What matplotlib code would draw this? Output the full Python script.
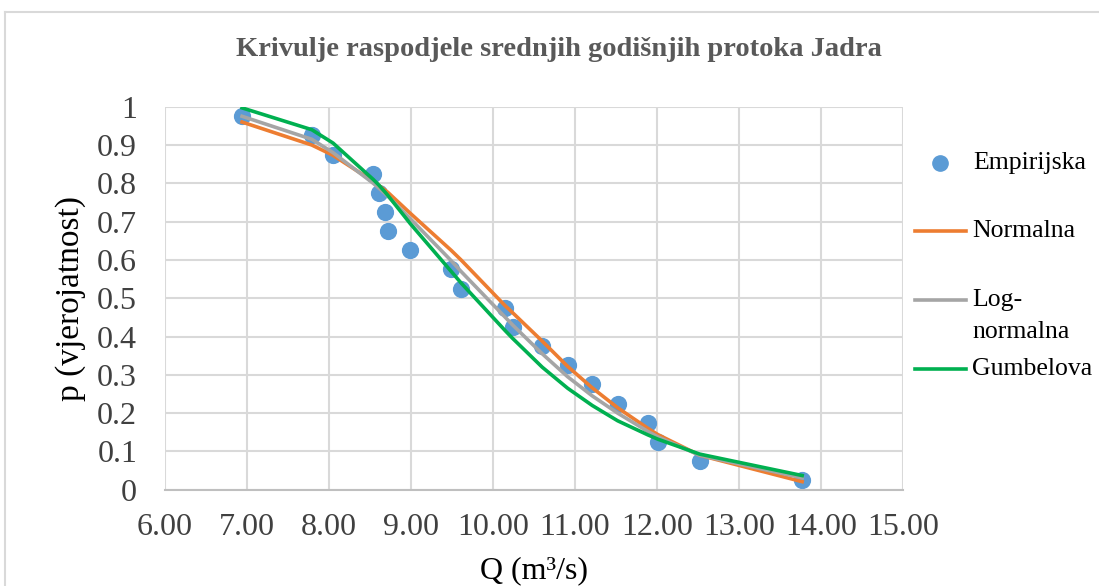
import matplotlib.pyplot as plt
from matplotlib.lines import Line2D

# empirical flows (m3/s) and their exceedance probabilities
q = [6.94, 7.79, 8.05, 8.54, 8.61, 8.68, 8.72, 8.99, 9.49, 9.61,
     10.15, 10.24, 10.60, 10.91, 11.21, 11.52, 11.89, 12.01, 12.52, 13.77]
p_emp = [0.975, 0.925, 0.875, 0.825, 0.775, 0.725, 0.675, 0.625, 0.575, 0.525,
         0.475, 0.425, 0.375, 0.325, 0.275, 0.225, 0.175, 0.125, 0.075, 0.025]
p_normal = [0.960, 0.900, 0.873, 0.805, 0.794, 0.783, 0.776, 0.722, 0.625, 0.600,
            0.480, 0.462, 0.388, 0.322, 0.266, 0.214, 0.160, 0.144, 0.090, 0.021]
p_lognormal = [0.975, 0.915, 0.880, 0.800, 0.787, 0.774, 0.766, 0.708, 0.598, 0.570,
               0.450, 0.430, 0.355, 0.295, 0.245, 0.200, 0.152, 0.138, 0.090, 0.031]
p_gumbel = [0.997, 0.940, 0.905, 0.810, 0.795, 0.778, 0.768, 0.695, 0.570, 0.540,
            0.415, 0.395, 0.320, 0.265, 0.220, 0.180, 0.143, 0.132, 0.093, 0.037]

xticks = [6, 7, 8, 9, 10, 11, 12, 13, 14, 15]
yticks = [0, 0.1, 0.2, 0.3, 0.4, 0.5, 0.6, 0.7, 0.8, 0.9, 1]
ytick_labels = ["0", "0.1", "0.2", "0.3", "0.4", "0.5", "0.6", "0.7", "0.8", "0.9", "1"]

plt.rcParams["font.family"] = ["Liberation Serif", "DejaVu Serif"]

fig = plt.figure(figsize=(10.99, 5.86), dpi=100)
ax = fig.add_axes([0.1501, 0.1643, 0.6716, 0.6536])

ax.scatter(q, p_emp, s=130, color="#5b9bd5", zorder=2)
ax.plot(q, p_normal, color="#ed7d31", lw=2.6, zorder=3)
ax.plot(q, p_lognormal, color="#a5a5a5", lw=2.6, zorder=3)
ax.plot(q, p_gumbel, color="#00b050", lw=2.6, zorder=3)

ax.set_xlim(6, 15)
ax.set_ylim(0, 1)
ax.set_xticks(xticks)
ax.set_xticklabels([f"{v:.2f}" for v in xticks])
ax.set_yticks(yticks)
ax.set_yticklabels(ytick_labels)
ax.grid(color="#d9d9d9", lw=1.5, zorder=0)
ax.set_axisbelow(True)
for side in ["top", "right", "left"]:
    ax.spines[side].set_visible(False)
ax.spines["bottom"].set_color("#bfbfbf")
ax.spines["bottom"].set_linewidth(1.5)
ax.tick_params(length=0, labelsize=23, labelcolor="#404040")
ax.tick_params(axis="x", pad=17)
ax.tick_params(axis="y", pad=20)

ax.set_xlabel("Q (m³/s)", fontsize=23, labelpad=10)
ax.set_ylabel("p (vjerojatnost)", fontsize=24, labelpad=8)
fig.text(0.5087, 0.916, "Krivulje raspodjele srednjih godišnjih protoka Jadra",
         ha="center", va="center", fontsize=20.5, fontweight="bold", color="#595959")

# legend drawn by hand so the multiline entry keeps its line on the first row
W, H = 1099, 586
fig.add_artist(Line2D([940 / W], [1 - 163 / H], marker="o", ms=11, color="#5b9bd5",
                      transform=fig.transFigure))
entries = [("Normalna", "#ed7d31", 231), ("Log-", "#a5a5a5", 300),
           ("Gumbelova", "#00b050", 369)]
for label, col, y in entries:
    fig.add_artist(Line2D([915 / W, 966 / W], [1 - y / H] * 2, color=col, lw=2.6,
                          transform=fig.transFigure))
    fig.text(972 / W, 1 - y / H, label, fontsize=18.5, va="center", ha="left")
fig.text(973 / W, 1 - 163 / H, "Empirijska", fontsize=18.5, va="center", ha="left")
fig.text(972 / W, 1 - 332 / H, "normalna", fontsize=18.5, va="center", ha="left")

# chart border
fig.add_artist(Line2D([5 / W, 1], [1 - 12 / H] * 2, color="#d9d9d9", lw=1.5,
                      transform=fig.transFigure))
fig.add_artist(Line2D([5 / W] * 2, [0, 1 - 12 / H], color="#d9d9d9", lw=1.5,
                      transform=fig.transFigure))

fig.savefig("out.png", dpi=100)
